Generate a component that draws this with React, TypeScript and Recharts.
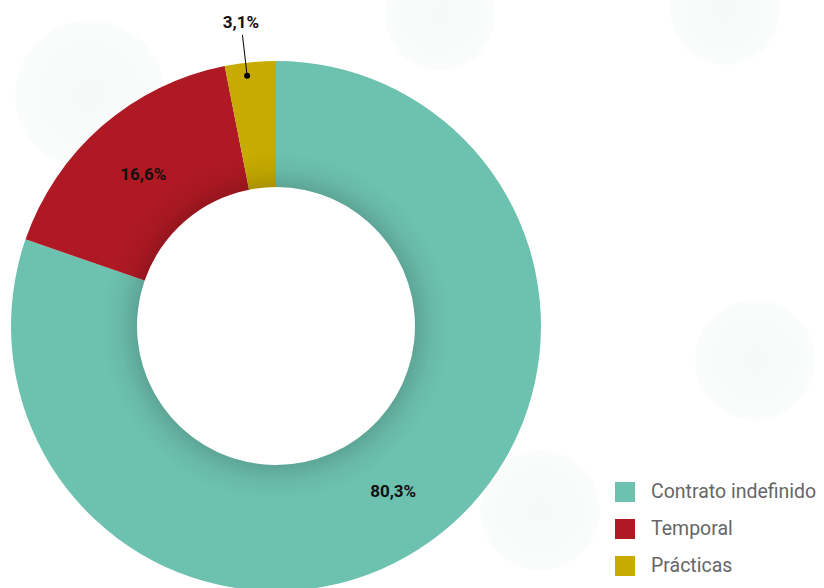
import React from "react";
import { PieChart, Pie, Cell, Legend } from "recharts";

const categories = ["Contrato indefinido", "Temporal", "Prácticas"];
const values = [80.3, 16.6, 3.1];
const valueLabels = ["80,3%", "16,6%", "3,1%"];
const colors = ["#6DC1AF", "#AF1923", "#C7AB00"];

const data = categories.map((name, i) => ({ name, value: values[i], label: valueLabels[i] }));
const shadeData = [{ name: "shade", value: 1 }];

const FONT = "Roboto, 'Liberation Sans', Arial, sans-serif";
const RAD = Math.PI / 180;

const renderLabel = (props: any) => {
  const { cx, cy, midAngle, innerRadius, outerRadius, percent, index } = props;
  const text = data[index].label;
  if (percent < 0.05) {
    const a = midAngle + 1;
    const cos = Math.cos(-a * RAD);
    const sin = Math.sin(-a * RAD);
    const r0 = outerRadius - 13;
    const r1 = outerRadius + 28;
    const r2 = outerRadius + 41;
    return (
      <g>
        <circle cx={cx + r0 * cos} cy={cy + r0 * sin} r={3} fill="#000" />
        <line x1={cx + r0 * cos} y1={cy + r0 * sin} x2={cx + r1 * cos} y2={cy + r1 * sin} stroke="#000" strokeWidth={1} />
        <text x={cx + r2 * cos} y={cy + r2 * sin} textAnchor="middle" dominantBaseline="central" fontFamily={FONT} fontWeight="bold" fontSize={17} fill="#111">
          {text}
        </text>
      </g>
    );
  }
  const r = (innerRadius + outerRadius) / 2;
  const x = cx + r * Math.cos(-midAngle * RAD);
  const y = cy + r * Math.sin(-midAngle * RAD);
  return (
    <text x={x} y={y} textAnchor="middle" dominantBaseline="central" fontFamily={FONT} fontWeight="bold" fontSize={17} fill="#111">
      {text}
    </text>
  );
};

const renderLegend = () => (
  <div style={{ fontFamily: FONT, whiteSpace: "nowrap" }}>
    {categories.map((c, i) => (
      <div key={c} style={{ display: "flex", alignItems: "center", height: 37 }}>
        <div style={{ width: 20, height: 20, background: colors[i], marginRight: 16, flex: "none" }} />
        <span style={{ fontSize: 19.5, color: "#666" }}>{c}</span>
      </div>
    ))}
  </div>
);

const blobs = [
  { x: 90, y: 95, r: 75 },
  { x: 440, y: 15, r: 55 },
  { x: 725, y: 10, r: 55 },
  { x: 755, y: 360, r: 60 },
  { x: 540, y: 510, r: 60 },
];

export default function App() {
  return (
    <div style={{ position: "absolute", left: 0, top: 0, width: 824, height: 588, background: "#fff", overflow: "hidden" }}>
      {blobs.map((b, i) => (
        <div
          key={i}
          style={{
            position: "absolute",
            left: b.x - b.r,
            top: b.y - b.r,
            width: b.r * 2,
            height: b.r * 2,
            borderRadius: "50%",
            background: "radial-gradient(circle, rgba(110,175,160,0.07) 0%, rgba(110,175,160,0.045) 55%, rgba(110,175,160,0) 100%)",
          }}
        />
      ))}
      <svg width={0} height={0} style={{ position: "absolute" }}>
        <defs>
          <radialGradient id="innerShade" gradientUnits="userSpaceOnUse" cx={276} cy={326} r={265}>
            <stop offset="0" stopColor="#000" stopOpacity={0} />
            <stop offset="0.52" stopColor="#000" stopOpacity={0.15} />
            <stop offset="0.59" stopColor="#000" stopOpacity={0.04} />
            <stop offset="0.66" stopColor="#000" stopOpacity={0} />
            <stop offset="1" stopColor="#000" stopOpacity={0} />
          </radialGradient>
        </defs>
      </svg>
      <div style={{ position: "absolute", left: 0, top: 0 }}>
        <PieChart width={824} height={588} margin={{ top: 0, right: 0, bottom: 0, left: 0 }}>
          <Pie
            data={data}
            dataKey="value"
            nameKey="name"
            cx={276}
            cy={326}
            innerRadius={139}
            outerRadius={265}
            startAngle={90}
            endAngle={-270}
            stroke="none"
            label={renderLabel}
            labelLine={false}
            isAnimationActive={false}
          >
            {data.map((d, i) => (
              <Cell key={d.name} fill={colors[i]} />
            ))}
          </Pie>
          <Pie
            data={shadeData}
            dataKey="value"
            cx={276}
            cy={326}
            innerRadius={139}
            outerRadius={265}
            startAngle={90}
            endAngle={-270}
            stroke="none"
            fill="url(#innerShade)"
            legendType="none"
            isAnimationActive={false}
          />
          <Legend
            layout="vertical"
            verticalAlign="bottom"
            align="right"
            content={renderLegend}
            wrapperStyle={{ position: "absolute", left: 615, top: 473, width: 209, bottom: "auto" }}
          />
        </PieChart>
      </div>
    </div>
  );
}
